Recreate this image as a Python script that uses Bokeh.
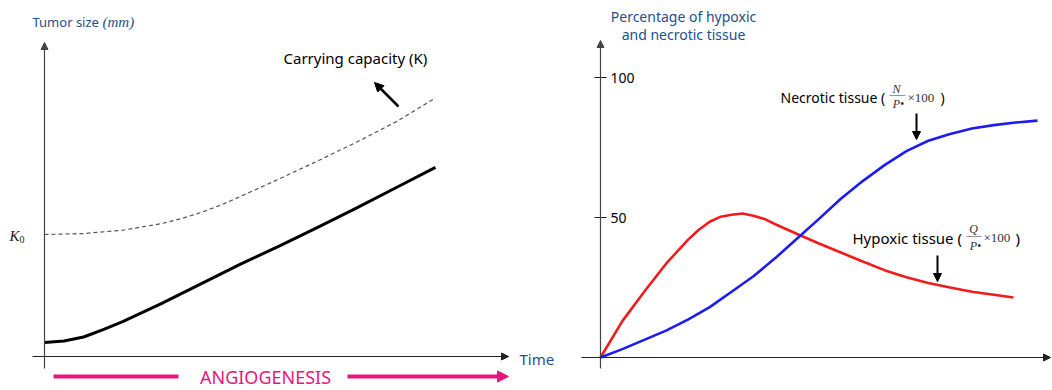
from bokeh.plotting import figure
from bokeh.layouts import row
from bokeh.models import Range1d, Arrow, NormalHead
from bokeh.core.properties import value
from bokeh.embed import file_html
from bokeh.resources import INLINE

# ---------------- data ----------------
# Left panel: tumour growth under angiogenesis
time_left = [0, 0.5, 1, 1.5, 2, 3, 4, 5, 6, 7, 8, 9, 10]
tumor_size = [1.15, 1.27, 1.6, 2.2, 2.85, 4.35, 5.95, 7.55, 9.05, 10.6, 12.2, 13.85, 15.5]
cap_time = [0, 1, 2, 3, 3.5, 4, 4.5, 5, 6, 7, 8, 9, 10]
carrying_capacity = [10.0, 10.08, 10.35, 10.9, 11.3, 11.8, 12.4, 13.1, 14.55, 16.05, 17.6, 19.25, 21.2]
K0 = 10.0

# Right panel: percentage of hypoxic / necrotic tissue
hyp_time = [0, 0.5, 1, 1.5, 2, 2.25, 2.5, 2.75, 3, 3.25, 3.5, 3.75, 4, 4.5, 5, 5.5, 6, 6.5,
            7, 7.5, 8, 8.5, 9, 9.45]
hypoxic_pct = [0, 13, 23.5, 33.5, 42, 45.6, 48.5, 50.3, 51, 51.4, 50.6, 49.5, 47.6, 44.1,
               40.7, 37.5, 34.3, 31.2, 28.7, 26.6, 25, 23.5, 22.4, 21.4]
nec_time = [0, 0.5, 1, 1.5, 2, 2.5, 3, 3.5, 4, 4.5, 5, 5.5, 6, 6.5, 7, 7.5, 8, 8.5, 9, 9.5, 10]
necrotic_pct = [0, 3, 6.3, 9.6, 13.5, 18, 23.5, 29, 35.5, 42.5, 49.5, 56.7, 63, 68.7, 73.7,
                77.4, 79.8, 81.8, 83, 83.9, 84.6]
y_ticks = [50, 100]
y_tick_labels = ["50", "100"]

# ---------------- style ----------------
BLUE_TXT = "#234f8c"
MAGENTA = "#e5177e"
SANS = value("Noto Sans")
SERIF = value("Liberation Serif")
H = 390

# ---------------- layout helpers (picture pixel -> data) ----------------
L_LEFT, L_W = 0, 560
R_LEFT, R_W = 560, 492
TOP = 0


def lx(px):
    return (px - 44) / 39.1


def ly(py):
    return (356 - py) / 12.2


def rx(px):
    return (px - 600) / 43.7


def ry(py):
    return (357 - py) / 2.8


def make_fig(xr, yr, w):
    p = figure(width=w, height=H, x_range=Range1d(*xr), y_range=Range1d(*yr),
               output_backend="svg", toolbar_location=None, min_border=0,
               x_axis_type=None, y_axis_type=None)
    p.outline_line_color = None
    p.xgrid.visible = False
    p.ygrid.visible = False
    p.background_fill_color = "white"
    p.border_fill_color = "white"
    return p


def arrow(p, x0, y0, x1, y1, color="black", width=1.2, size=7):
    p.add_layout(Arrow(end=NormalHead(size=size, fill_color=color, line_color=color, line_width=1),
                       x_start=x0, y_start=y0, x_end=x1, y_end=y1,
                       line_color=color, line_width=width))


def txt(p, x, y, s, size, font=SANS, color="black", align="left", style="normal"):
    p.text(x=[x], y=[y], text=[s], text_font=font, text_font_size=size,
           text_color=color, text_align=align, text_baseline="middle",
           text_font_style=style)


# ================= LEFT PANEL =================
left = make_fig((lx(L_LEFT), lx(L_LEFT + L_W)), (ly(TOP + H), ly(TOP)), L_W)

# axes
arrow(left, 0, ly(368), 0, ly(42), color="#444444", width=1.2, size=7)
arrow(left, lx(32), 0, lx(508), 0, color="#222222", width=1.2, size=7)
txt(left, lx(519), ly(358), "Time", "15px", color=BLUE_TXT)

# title
txt(left, lx(32), ly(21), "Tumor size", "13px", color=BLUE_TXT)
txt(left, lx(102), ly(21), "(mm)", "15px", font=SERIF, color=BLUE_TXT, style="italic")

# K0 label
txt(left, lx(9), K0 - 1 / 12.2, "K", "15px", font=SERIF, style="italic", color="#222222")
txt(left, lx(19), K0 - 5 / 12.2, "0", "10px", font=SERIF, color="#222222")

# curves
left.line(cap_time, carrying_capacity, line_color="#555555", line_width=1.2, line_dash="4 3")
left.line(time_left, tumor_size, line_color="black", line_width=3)

# carrying-capacity annotation
txt(left, lx(283), ly(57), "Carrying capacity (K)", "15px")
arrow(left, lx(398), ly(106), lx(374), ly(82), width=2.5, size=9)

# angiogenesis arrow
left.segment(x0=[lx(53)], y0=[ly(376)], x1=[lx(178)], y1=[ly(376)],
             line_color=MAGENTA, line_width=4)
txt(left, lx(265), ly(376), "ANGIOGENESIS", "18px", color=MAGENTA, align="center")
arrow(left, lx(347), ly(376), lx(508), ly(376), color=MAGENTA, width=4, size=11)

# ================= RIGHT PANEL =================
right = make_fig((rx(R_LEFT), rx(R_LEFT + R_W)), (ry(TOP + H), ry(TOP)), R_W)

# axes
arrow(right, 0, ry(368), 0, ry(40), color="#444444", width=1.2, size=7)
arrow(right, rx(581), 0, rx(1050), 0, color="#222222", width=1.2, size=7)
right.segment(x0=[rx(594)] * len(y_ticks), y0=y_ticks, x1=[rx(606)] * len(y_ticks), y1=y_ticks,
              line_color="#222222", line_width=1.2)
right.text(x=[rx(610)] * len(y_ticks), y=y_ticks, text=y_tick_labels, text_font=SANS,
           text_font_size="14px", text_color="black", text_align="left", text_baseline="middle")

# title
txt(right, rx(683), ry(16), "Percentage of hypoxic", "14px", color=BLUE_TXT, align="center")
txt(right, rx(683), ry(34), "and necrotic tissue", "14px", color=BLUE_TXT, align="center")

# curves
right.line(hyp_time, hypoxic_pct, line_color="#f01c1c", line_width=2.6)
right.line(nec_time, necrotic_pct, line_color="#1c1cf0", line_width=2.6)

# necrotic annotation
txt(right, rx(780), ry(97), "Necrotic tissue (", "14px")
txt(right, rx(896), ry(88), "N", "12px", font=SERIF, style="italic", align="center", color="#333333")
right.segment(x0=[rx(889)], y0=[ry(95)], x1=[rx(905)], y1=[ry(95)], line_color="#777777", line_width=0.8)
txt(right, rx(898), ry(103), "P\u2022", "12px", font=SERIF, style="italic", align="center", color="#333333")
txt(right, rx(907), ry(97), "\u00d7100", "13px", font=SERIF, color="#333333")
txt(right, rx(940), ry(97), ")", "14px")
arrow(right, rx(916), ry(113), rx(916), ry(139), width=2, size=8)

# hypoxic annotation
txt(right, rx(852), ry(237), "Hypoxic tissue (", "15px")
txt(right, rx(973), ry(228), "Q", "12px", font=SERIF, style="italic", align="center", color="#333333")
right.segment(x0=[rx(966)], y0=[ry(236)], x1=[rx(981)], y1=[ry(236)], line_color="#777777", line_width=0.8)
txt(right, rx(975), ry(245), "P\u2022", "12px", font=SERIF, style="italic", align="center", color="#333333")
txt(right, rx(983), ry(237), "\u00d7100", "13px", font=SERIF, color="#333333")
txt(right, rx(1015), ry(237), ")", "15px")
arrow(right, rx(937), ry(255), rx(937), ry(281), width=2, size=8)

layout = row(left, right)
open("out.html", "w").write(file_html(layout, INLINE))
